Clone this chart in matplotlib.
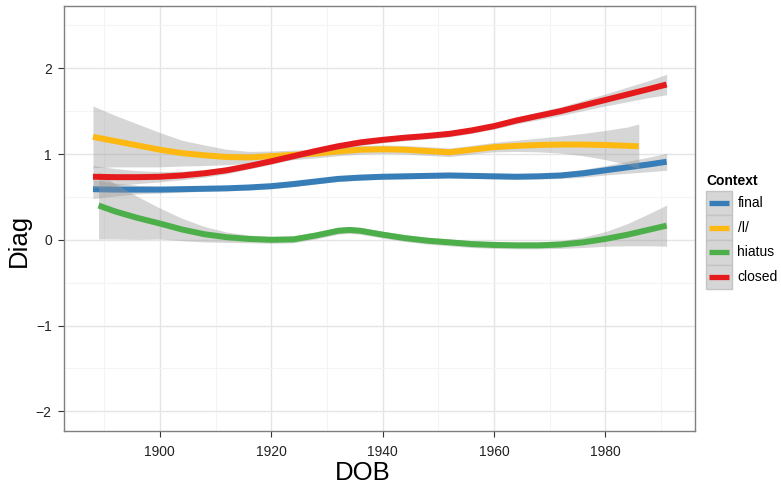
import numpy as np
import matplotlib
matplotlib.use("Agg")
import matplotlib.pyplot as plt
from matplotlib.patches import Rectangle
from matplotlib.lines import Line2D
from matplotlib.ticker import MultipleLocator

plt.rcParams['font.family'] = ['Liberation Sans', 'DejaVu Sans']

# ---- data ----
contexts = ["final", "/l/", "hiatus", "closed"]
colors = ["#377EB8", "#FDB912", "#4DAF4A", "#E41A1C"]

final_x = [1888, 1892, 1896, 1900, 1904, 1908, 1912, 1916, 1920, 1924, 1928, 1932, 1936,
           1940, 1944, 1948, 1952, 1956, 1960, 1964, 1968, 1972, 1976, 1980, 1984, 1988, 1991]
final_y = [0.59, 0.585, 0.585, 0.585, 0.59, 0.595, 0.60, 0.61, 0.625, 0.65, 0.68, 0.71, 0.725,
           0.735, 0.74, 0.745, 0.75, 0.745, 0.74, 0.735, 0.74, 0.75, 0.775, 0.81, 0.845, 0.88, 0.91]
final_se = [0.11, 0.075, 0.05, 0.04, 0.035, 0.03, 0.03, 0.03, 0.03, 0.03, 0.03, 0.03, 0.03,
            0.03, 0.03, 0.03, 0.03, 0.03, 0.03, 0.03, 0.03, 0.035, 0.045, 0.055, 0.07, 0.085, 0.10]

l_x = [1888, 1892, 1896, 1900, 1904, 1908, 1912, 1916, 1920, 1924, 1928, 1932, 1936,
       1940, 1944, 1948, 1952, 1956, 1960, 1964, 1968, 1972, 1976, 1980, 1984, 1986]
l_y = [1.20, 1.15, 1.10, 1.05, 1.01, 0.985, 0.965, 0.96, 0.975, 0.99, 1.005, 1.03, 1.05,
       1.055, 1.05, 1.035, 1.02, 1.05, 1.08, 1.095, 1.105, 1.11, 1.11, 1.105, 1.095, 1.09]
l_se = [0.36, 0.30, 0.25, 0.20, 0.15, 0.12, 0.09, 0.07, 0.06, 0.055, 0.05, 0.05, 0.05,
        0.05, 0.05, 0.05, 0.05, 0.05, 0.055, 0.065, 0.08, 0.10, 0.13, 0.17, 0.22, 0.26]

hiatus_x = [1889, 1892, 1896, 1900, 1904, 1908, 1912, 1916, 1920, 1924, 1928, 1932, 1934, 1936,
            1940, 1944, 1948, 1952, 1956, 1960, 1964, 1968, 1972, 1976, 1980, 1984, 1988, 1991]
hiatus_y = [0.40, 0.33, 0.255, 0.19, 0.12, 0.065, 0.03, 0.01, 0.0, 0.005, 0.05, 0.105, 0.115, 0.105,
            0.06, 0.02, -0.01, -0.03, -0.05, -0.06, -0.065, -0.065, -0.055, -0.03, 0.01, 0.06, 0.12, 0.165]
hiatus_se = [0.39, 0.32, 0.25, 0.18, 0.13, 0.09, 0.06, 0.045, 0.04, 0.04, 0.04, 0.04, 0.04, 0.04,
             0.04, 0.04, 0.04, 0.04, 0.04, 0.04, 0.04, 0.04, 0.045, 0.06, 0.085, 0.13, 0.19, 0.24]

closed_x = [1888, 1892, 1896, 1900, 1904, 1908, 1912, 1916, 1920, 1924, 1928, 1932, 1936,
            1940, 1944, 1948, 1952, 1956, 1960, 1964, 1968, 1972, 1976, 1980, 1984, 1988, 1991]
closed_y = [0.735, 0.73, 0.73, 0.735, 0.75, 0.775, 0.81, 0.86, 0.915, 0.975, 1.035, 1.09, 1.135,
            1.165, 1.19, 1.21, 1.235, 1.275, 1.325, 1.39, 1.445, 1.50, 1.565, 1.63, 1.695, 1.76, 1.81]
closed_se = [0.13, 0.10, 0.075, 0.06, 0.05, 0.045, 0.04, 0.035, 0.035, 0.035, 0.035, 0.035, 0.035,
             0.035, 0.035, 0.035, 0.035, 0.035, 0.035, 0.04, 0.045, 0.05, 0.06, 0.07, 0.085, 0.10, 0.12]

series = [(final_x, final_y, final_se), (l_x, l_y, l_se),
          (hiatus_x, hiatus_y, hiatus_se), (closed_x, closed_y, closed_se)]

x_ticks = [1900, 1920, 1940, 1960, 1980]
y_ticks = [-2, -1, 0, 1, 2]

# ---- figure ----
W, H = 781, 483
fig = plt.figure(figsize=(W / 100, H / 100), dpi=100)
ax = fig.add_axes([64.3 / W, 1 - 430.7 / H, (695.3 - 64.3) / W, (430.7 - 6) / H])

for i, ((xs, ys, se), c) in enumerate(zip(series, colors)):
    xs = np.array(xs, float)
    ys = np.array(ys, float)
    se = np.array(se, float)
    ax.fill_between(xs, ys - se, ys + se, color="#999999", alpha=0.4, lw=0, zorder=3 + 2 * i)
    ax.plot(xs, ys, color=c, lw=4.3, solid_capstyle="butt", solid_joinstyle="round", zorder=4 + 2 * i)

ax.set_xlim(1882.85, 1996.15)
ax.set_ylim(-2.225, 2.725)
ax.set_xticks(x_ticks)
ax.set_yticks(y_ticks)
ax.xaxis.set_minor_locator(MultipleLocator(10))
ax.yaxis.set_minor_locator(MultipleLocator(0.5))
ax.grid(which="major", color="#e5e5e5", lw=1.0, zorder=0)
ax.grid(which="minor", color="#f4f4f4", lw=0.8, zorder=0)
ax.set_axisbelow(True)
for s in ax.spines.values():
    s.set_color("#7f7f7f")
    s.set_linewidth(1.0)
ax.tick_params(which="major", length=4, width=0.8, color="#333333", labelsize=10,
               labelcolor="#222222")
ax.tick_params(axis="y", pad=5)
ax.tick_params(axis="x", pad=6.5)
ax.tick_params(which="minor", length=0)
ax.set_xticklabels([str(t) for t in x_ticks])
ax.set_yticklabels(["\u2212" + str(-t) if t < 0 else str(t) for t in y_ticks])

fig.text(363 / W, 1 - 472.5 / H, "DOB", fontsize=18.5, ha="center", va="center")
fig.text(19 / W, 1 - 240 / H, "Diag", fontsize=18.5, ha="center", va="center", rotation=90)

# ---- legend (ggplot-style keys) ----
def fx(x):
    return x / W

def fy(y):
    return 1 - y / H

fig.text(fx(706), fy(185), "Context", fontsize=10, fontweight="bold", ha="left", va="baseline")
key_top = 190.7
key_h = 24.6
for i, (lab, c) in enumerate(zip(contexts, colors)):
    t = key_top + i * key_h
    fig.add_artist(Rectangle((fx(706), fy(t + key_h)), (731.7 - 706) / W, key_h / H,
                             transform=fig.transFigure, facecolor="#d6d6d6",
                             edgecolor="#c4c4c4", lw=1.0))
    cy = fy(t + key_h / 2)
    fig.add_artist(Line2D([fx(709), fx(729)], [cy, cy], transform=fig.transFigure,
                          color=c, lw=3.8, solid_capstyle="butt"))
    fig.text(fx(737.5), cy, lab, fontsize=10, ha="left", va="center")

fig.savefig("out.png", dpi=100)
